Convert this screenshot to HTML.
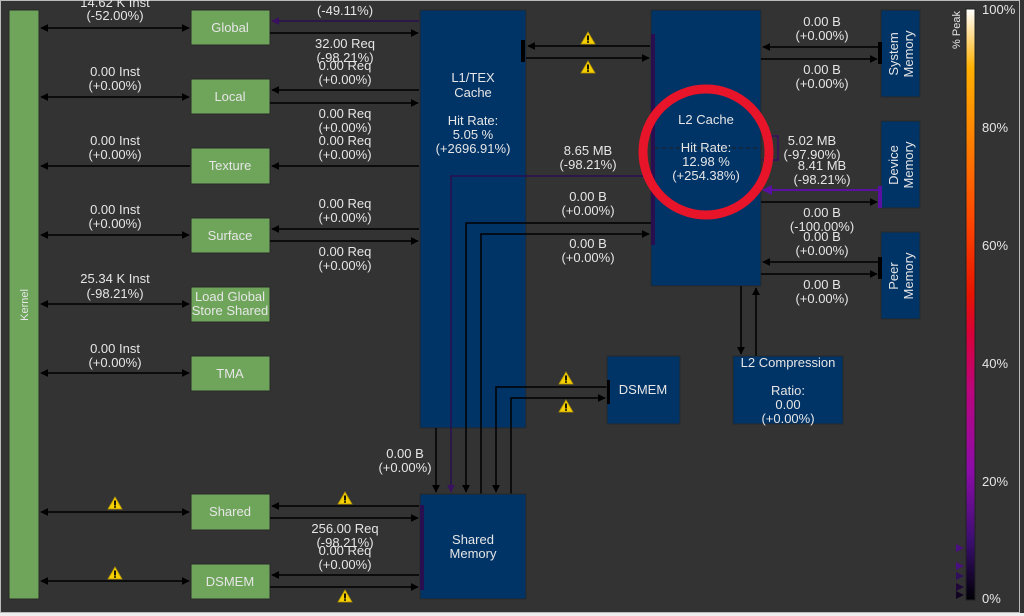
<!DOCTYPE html>
<html><head><meta charset="utf-8"><style>
html,body{margin:0;padding:0;background:#333;}
svg{display:block}
text{font-family:"Liberation Sans",sans-serif;font-size:13px;fill:#e6e6e6;text-anchor:middle}
</style></head><body>
<svg width="1024" height="616" viewBox="0 0 1024 616" xmlns="http://www.w3.org/2000/svg">
<defs>
<marker id="a" viewBox="0 0 10 10" refX="9" refY="5" markerWidth="8" markerHeight="8" orient="auto-start-reverse" markerUnits="userSpaceOnUse"><path d="M0,0L10,5L0,10z" fill="#000"/></marker>
<marker id="p" viewBox="0 0 10 10" refX="9" refY="5" markerWidth="8" markerHeight="8" orient="auto-start-reverse" markerUnits="userSpaceOnUse"><path d="M0,0L10,5L0,10z" fill="#3a1060"/></marker>
<marker id="pv" viewBox="0 0 10 10" refX="9" refY="5" markerWidth="10" markerHeight="10" orient="auto-start-reverse" markerUnits="userSpaceOnUse"><path d="M0,0L10,5L0,10z" fill="#5a10a0"/></marker>
<linearGradient id="cb" x1="0" y1="1" x2="0" y2="0">
<stop offset="0" stop-color="#000004"/><stop offset="0.1" stop-color="#3b0f70"/><stop offset="0.22" stop-color="#8c0ca8"/><stop offset="0.35" stop-color="#b8067f"/><stop offset="0.45" stop-color="#d8003a"/><stop offset="0.52" stop-color="#e81500"/><stop offset="0.65" stop-color="#ff4a00"/><stop offset="0.8" stop-color="#ff8a00"/><stop offset="0.9" stop-color="#ffb000"/><stop offset="1" stop-color="#ffffff"/>
</linearGradient>
<g id="w"><path d="M0,-7L7,5L-7,5z" fill="#f5d000" stroke="#b89800" stroke-width="0.8"/><rect x="-0.9" y="-3.5" width="1.8" height="5" fill="#000"/><rect x="-0.9" y="2.2" width="1.8" height="1.6" fill="#000"/></g>
</defs>
<rect x="0.5" y="0.5" width="1019" height="612" fill="#333" stroke="#bbb" stroke-width="1"/>
<rect x="0" y="613" width="1024" height="3" fill="#eee"/>

<rect x="9" y="10" width="30" height="589" fill="#6ea55a" stroke="#2a2a2a"/>
<text transform="translate(28,305) rotate(-90)" style="font-size:11px">Kernel</text>

<g fill="#6ea55a" stroke="#2a2a2a">
<rect x="191" y="10" width="79" height="35"/><rect x="191" y="79" width="79" height="35"/>
<rect x="191" y="148" width="79" height="36"/><rect x="191" y="218" width="79" height="35"/>
<rect x="191" y="287" width="79" height="35"/><rect x="191" y="356" width="79" height="35"/>
<rect x="191" y="494" width="79" height="36"/><rect x="191" y="564" width="79" height="35"/>
</g>
<text x="230" y="32">Global</text><text x="230" y="101">Local</text><text x="230" y="170">Texture</text>
<text x="230" y="240">Surface</text><text x="230" y="301">Load Global</text><text x="230" y="315">Store Shared</text>
<text x="230" y="378">TMA</text><text x="230" y="516">Shared</text><text x="230" y="586">DSMEM</text>

<g stroke="#000" stroke-width="1.5" fill="none">
<line x1="41" y1="28" x2="189" y2="28" marker-start="url(#a)" marker-end="url(#a)"/>
<line x1="41" y1="97" x2="189" y2="97" marker-start="url(#a)" marker-end="url(#a)"/>
<line x1="41" y1="166" x2="190" y2="166" marker-start="url(#a)"/>
<line x1="41" y1="235" x2="189" y2="235" marker-start="url(#a)" marker-end="url(#a)"/>
<line x1="41" y1="304" x2="189" y2="304" marker-start="url(#a)" marker-end="url(#a)"/>
<line x1="41" y1="373" x2="189" y2="373" marker-start="url(#a)" marker-end="url(#a)"/>
<line x1="41" y1="512" x2="189" y2="512" marker-start="url(#a)" marker-end="url(#a)"/>
<line x1="41" y1="581" x2="189" y2="581" marker-start="url(#a)" marker-end="url(#a)"/>
</g>
<text x="115" y="7">14.62 K Inst</text><text x="115" y="20">(-52.00%)</text>
<text x="115" y="76">0.00 Inst</text><text x="115" y="90">(+0.00%)</text>
<text x="115" y="145">0.00 Inst</text><text x="115" y="159">(+0.00%)</text>
<text x="115" y="214">0.00 Inst</text><text x="115" y="228">(+0.00%)</text>
<text x="115" y="283">25.34 K Inst</text><text x="115" y="298">(-98.21%)</text>
<text x="115" y="353">0.00 Inst</text><text x="115" y="367">(+0.00%)</text>
<use href="#w" x="115" y="504"/><use href="#w" x="115" y="574"/>

<rect x="420" y="10" width="106" height="418" fill="#003366" stroke="#2a2a2a"/>
<text x="473" y="82">L1/TEX</text><text x="473" y="97">Cache</text>
<text x="473" y="125">Hit Rate:</text><text x="473" y="139">5.05 %</text><text x="473" y="153">(+2696.91%)</text>

<g stroke-width="1.5" fill="none">
<line x1="419" y1="21" x2="272" y2="21" stroke="#2a0f50" marker-end="url(#p)"/>
<line x1="270" y1="33" x2="418" y2="33" stroke="#000" marker-end="url(#a)"/>
<line x1="419" y1="90" x2="272" y2="90" stroke="#000" marker-end="url(#a)"/>
<line x1="270" y1="103" x2="418" y2="103" stroke="#000" marker-end="url(#a)"/>
<line x1="419" y1="166" x2="272" y2="166" stroke="#000" marker-end="url(#a)"/>
<line x1="419" y1="229" x2="272" y2="229" stroke="#000" marker-end="url(#a)"/>
<line x1="270" y1="241" x2="418" y2="241" stroke="#000" marker-end="url(#a)"/>
<line x1="419" y1="506" x2="272" y2="506" stroke="#000" marker-end="url(#a)"/>
<line x1="270" y1="518" x2="418" y2="518" stroke="#000" marker-end="url(#a)"/>
<line x1="419" y1="575" x2="272" y2="575" stroke="#000" marker-end="url(#a)"/>
<line x1="270" y1="587" x2="418" y2="587" stroke="#000" marker-end="url(#a)"/>
</g>
<text x="345" y="15">(-49.11%)</text>
<text x="345" y="48">32.00 Req</text><text x="345" y="62">(-98.21%)</text>
<text x="345" y="70">0.00 Req</text><text x="345" y="84">(+0.00%)</text>
<text x="345" y="118">0.00 Req</text><text x="345" y="132">(+0.00%)</text>
<text x="345" y="145">0.00 Req</text><text x="345" y="159">(+0.00%)</text>
<text x="345" y="208">0.00 Req</text><text x="345" y="222">(+0.00%)</text>
<text x="345" y="256">0.00 Req</text><text x="345" y="270">(+0.00%)</text>
<use href="#w" x="345" y="499"/>
<text x="345" y="533">256.00 Req</text><text x="345" y="547">(-98.21%)</text>
<text x="345" y="555">0.00 Req</text><text x="345" y="569">(+0.00%)</text>
<use href="#w" x="345" y="597"/>

<rect x="651" y="10" width="110" height="276" fill="#003366" stroke="#2a2a2a"/>
<rect x="651" y="34" width="4" height="211" fill="#2a0f50"/>
<rect x="521" y="40" width="4" height="22" fill="#000"/>
<g stroke="#000" stroke-width="1.5" fill="none">
<line x1="650" y1="46" x2="528" y2="46" marker-end="url(#a)"/>
<line x1="526" y1="58" x2="649" y2="58" marker-end="url(#a)"/>
</g>
<use href="#w" x="588" y="39"/><use href="#w" x="588" y="68"/>

<g stroke-width="1.5" fill="none">
<polyline points="651,176 451,176 451,492" stroke="#2a0f50" marker-end="url(#p)"/>
<polyline points="651,223 466,223 466,492" stroke="#000" marker-end="url(#a)"/>
<polyline points="481,494 481,234 649,234" stroke="#000" marker-end="url(#a)"/>
<line x1="436" y1="428" x2="436" y2="492" stroke="#000" marker-end="url(#a)"/>
<polyline points="607,387 496,387 496,492" stroke="#000" marker-end="url(#a)"/>
<polyline points="511,494 511,398 605,398" stroke="#000" marker-end="url(#a)"/>
</g>
<text x="588" y="155">8.65 MB</text><text x="588" y="169">(-98.21%)</text>
<text x="588" y="201">0.00 B</text><text x="588" y="215">(+0.00%)</text>
<text x="588" y="248">0.00 B</text><text x="588" y="262">(+0.00%)</text>
<text x="405" y="458">0.00 B</text><text x="405" y="472">(+0.00%)</text>

<rect x="607" y="356" width="73" height="68" fill="#003366" stroke="#2a2a2a"/>
<rect x="607" y="380" width="3" height="24" fill="#000"/>
<text x="643" y="394">DSMEM</text>
<use href="#w" x="566" y="379"/><use href="#w" x="566" y="407"/>

<rect x="733" y="356" width="110" height="68" fill="#003366" stroke="#2a2a2a"/>
<text x="788" y="367">L2 Compression</text><text x="788" y="395">Ratio:</text><text x="788" y="409">0.00</text><text x="788" y="423">(+0.00%)</text>
<g stroke="#000" stroke-width="1.5" fill="none">
<line x1="741" y1="286" x2="741" y2="354" marker-end="url(#a)"/>
<line x1="756" y1="356" x2="756" y2="288" marker-end="url(#a)"/>
</g>

<rect x="420" y="494" width="106" height="105" fill="#003366" stroke="#2a2a2a"/>
<rect x="420" y="505" width="4" height="85" fill="#2a0f50"/>
<text x="473" y="544">Shared</text><text x="473" y="558">Memory</text>

<text x="706" y="124">L2 Cache</text>
<line x1="655" y1="148" x2="762" y2="148" stroke="#222" stroke-width="1" stroke-dasharray="4,3"/>
<text x="706" y="152">Hit Rate:</text><text x="706" y="166">12.98 %</text><text x="706" y="180">(+254.38%)</text>
<polyline points="762,136 778,136 778,160 762,160" fill="none" stroke="#3a1060" stroke-width="1.5"/>
<circle cx="706" cy="152" r="63" fill="none" stroke="#e8142a" stroke-width="9"/>

<g fill="#003366" stroke="#2a2a2a">
<rect x="881" y="10" width="39" height="87"/><rect x="881" y="121" width="39" height="87"/><rect x="881" y="232" width="39" height="87"/>
</g>
<text transform="translate(898,54) rotate(-90)">System</text><text transform="translate(913,54) rotate(-90)">Memory</text>
<text transform="translate(898,165) rotate(-90)">Device</text><text transform="translate(913,165) rotate(-90)">Memory</text>
<text transform="translate(898,276) rotate(-90)">Peer</text><text transform="translate(913,276) rotate(-90)">Memory</text>
<rect x="878" y="42" width="4" height="22" fill="#000"/>
<rect x="878" y="186" width="4" height="22" fill="#5a10a0"/>
<rect x="878" y="257" width="4" height="22" fill="#000"/>
<g stroke-width="1.5" fill="none">
<line x1="880" y1="47" x2="763" y2="47" stroke="#000" marker-end="url(#a)"/>
<line x1="761" y1="59" x2="877" y2="59" stroke="#000" marker-end="url(#a)"/>
<line x1="880" y1="190" x2="763" y2="190" stroke="#5a10a0" stroke-width="2" marker-end="url(#pv)"/>
<line x1="761" y1="202" x2="877" y2="202" stroke="#000" marker-end="url(#a)"/>
<line x1="880" y1="262" x2="763" y2="262" stroke="#000" marker-end="url(#a)"/>
<line x1="761" y1="274" x2="877" y2="274" stroke="#000" marker-end="url(#a)"/>
</g>
<text x="822" y="26">0.00 B</text><text x="822" y="40">(+0.00%)</text>
<text x="822" y="74">0.00 B</text><text x="822" y="88">(+0.00%)</text>
<text x="812" y="145">5.02 MB</text><text x="812" y="159">(-97.90%)</text>
<text x="822" y="170">8.41 MB</text><text x="822" y="184">(-98.21%)</text>
<text x="822" y="217">0.00 B</text><text x="822" y="231">(-100.00%)</text>
<text x="822" y="241">0.00 B</text><text x="822" y="255">(+0.00%)</text>
<text x="822" y="289">0.00 B</text><text x="822" y="303">(+0.00%)</text>

<rect x="966" y="9" width="9" height="591" fill="url(#cb)" stroke="#222" stroke-width="1"/>
<text transform="translate(960,30) rotate(-90)" style="font-size:11px">% Peak</text>
<text x="982" y="14" style="text-anchor:start">100%</text>
<text x="982" y="132" style="text-anchor:start">80%</text>
<text x="982" y="250" style="text-anchor:start">60%</text>
<text x="982" y="368" style="text-anchor:start">40%</text>
<text x="982" y="486" style="text-anchor:start">20%</text>
<text x="982" y="603" style="text-anchor:start">0%</text>
<g fill="#4a1080">
<path d="M956,544L964,548L956,552z"/><path d="M956,562L964,566L956,570z"/>
<path d="M956,572L964,576L956,580z" fill="#30105a"/><path d="M956,583L964,587L956,591z" fill="#20083a"/><path d="M956,591L964,595L956,599z" fill="#100420"/>
</g>
</svg>
</body></html>
